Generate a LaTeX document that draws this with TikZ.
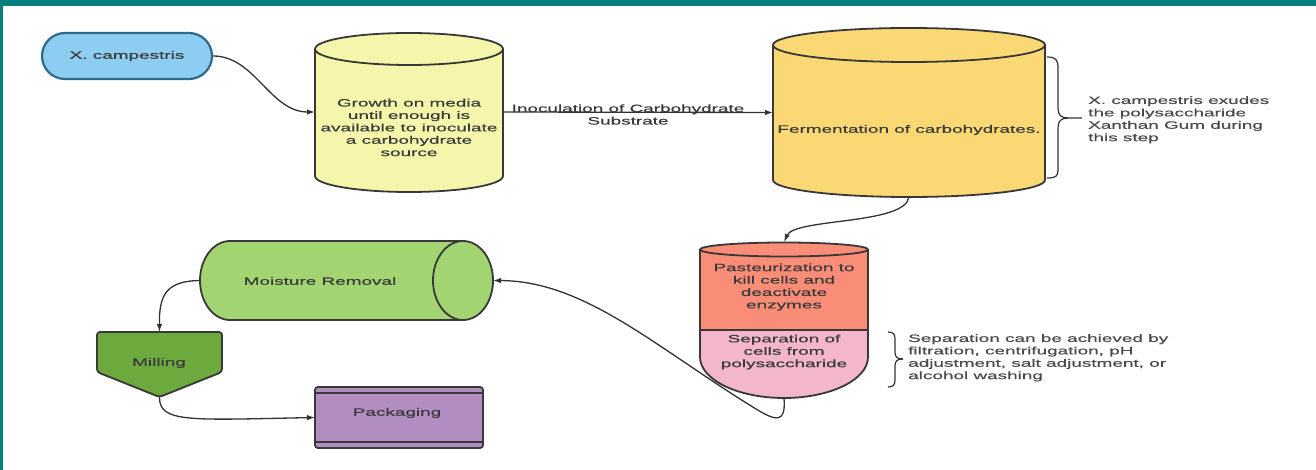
\documentclass[tikz,border=0pt]{standalone}
\usepackage{fontspec}
\setmainfont{Liberation Sans}[FakeStretch=1.77,FakeBold=0.5]
\usetikzlibrary{arrows.meta}

\definecolor{frameteal}{HTML}{047F7F}
\definecolor{pillfill}{HTML}{8DCDF2}
\definecolor{pillline}{HTML}{2D6A8C}
\definecolor{growfill}{HTML}{F6F5AC}
\definecolor{fermfill}{HTML}{FAD975}
\definecolor{pastfill}{HTML}{F98D78}
\definecolor{sepfill}{HTML}{F3B6CA}
\definecolor{moistfill}{HTML}{A2D572}
\definecolor{millfill}{HTML}{6DAA3E}
\definecolor{packfill}{HTML}{B18DC1}
\definecolor{outline}{HTML}{383838}
\definecolor{nodetext}{HTML}{3A3A3A}
\definecolor{notetext}{HTML}{4A4A4A}
\definecolor{connect}{HTML}{333333}

\begin{document}
\begin{tikzpicture}[x=1pt,y=-1pt,
  txt/.style={font=\fontsize{10.7}{12.4}\selectfont, text=nodetext, align=center, inner sep=0pt},
  note/.style={font=\fontsize{10.7}{12.4}\selectfont, text=notetext, align=left, anchor=north west, inner sep=0pt},
  hidden/.style={inner sep=0pt, outer sep=0pt, draw=none},
  shapeline/.style={draw=outline, line width=1.8pt, line join=round},
  conn/.style={draw=connect, line width=1.3pt, -{Latex[length=8pt,width=5.5pt]}},
  bracel/.style={draw=connect, line width=1.2pt},
]
\useasboundingbox (0,0) rectangle (1316,470);
\fill[white] (0,0) rectangle (1316,470);
\fill[frameteal] (0,0) rectangle (1316,6);
\fill[frameteal] (0,0) rectangle (3,470);

% start organism
\node[txt, draw=pillline, fill=pillfill, line width=2.2pt, rounded corners=23pt,
      minimum width=170pt, minimum height=46pt] (xc) at (127,56) {X. campestris};

% growth cylinder
\draw[shapeline, fill=growfill] (315,49) -- (315,176)
  arc[start angle=180, end angle=360, x radius=94pt, y radius=16pt] -- (503,49);
\draw[shapeline, fill=growfill] (409,49) ellipse[x radius=94pt, y radius=16pt];
\node[hidden, minimum width=188pt, minimum height=158pt] (grow) at (409,112) {};
\node[txt] (growtext) at (409,127.5) {Growth on media\\until enough is\\available to inoculate\\a carbohydrate\\source};

% fermentation cylinder
\draw[shapeline, fill=fermfill] (773,45) -- (773,180)
  arc[start angle=180, end angle=360, x radius=136pt, y radius=17pt] -- (1045,45);
\draw[shapeline, fill=fermfill] (909,45) ellipse[x radius=136pt, y radius=17pt];
\node[hidden, minimum width=272pt, minimum height=169pt] (ferm) at (909,112.5) {};
\node[txt] (fermtext) at (909,130) {Fermentation of carbohydrates.};

% brace and note beside fermentation
\draw[bracel] (1047,57) .. controls (1056,57) and (1058,60) .. (1058,68) -- (1058,108)
  .. controls (1058,115) and (1061,118) .. (1068,118) -- (1082,118);
\draw[bracel] (1068,118) .. controls (1061,118) and (1058,121) .. (1058,128) -- (1058,170)
  .. controls (1058,176) and (1056,178) .. (1047,178);
\node[note] (fermnote) at (1088,96) {X. campestris exudes\\the polysaccharide\\Xanthan Gum during\\this step};

% pasteurization / separation vessel
\draw[shapeline, fill=pastfill] (700,249.5) -- (700,330) -- (868,330) -- (868,249.5) -- cycle;
\draw[shapeline, fill=sepfill] (700,330) -- (700,357)
  arc[start angle=180, end angle=360, x radius=84pt, y radius=41pt] -- (868,330) -- cycle;
\draw[shapeline, fill=pastfill] (784,249.5) ellipse[x radius=84pt, y radius=7pt];
\node[hidden, minimum width=168pt, minimum height=88pt] (past) at (784,286) {};
\node[hidden, minimum width=168pt, minimum height=68pt] (sep) at (784,364) {};
\node[txt] (pasttext) at (784,287) {Pasteurization to\\kill cells and\\deactivate\\enzymes};
\node[txt] (septext) at (784,352) {Separation of\\cells from\\polysaccharide};

% brace and note beside separation
\draw[bracel] (888,332) .. controls (893,332) and (895,334) .. (895,339) -- (895,352)
  .. controls (895,357) and (897,359) .. (903,359);
\draw[bracel] (903,359) .. controls (897,359) and (895,361) .. (895,366) -- (895,380)
  .. controls (895,385) and (893,387) .. (888,387);
\node[note] (sepnote) at (908,334) {Separation can be achieved by\\filtration, centrifugation, pH\\adjustment, salt adjustment, or\\alcohol washing};

% moisture removal (horizontal cylinder)
\draw[shapeline, fill=moistfill] (463,241) -- (230,241)
  arc[start angle=90, end angle=270, x radius=30pt, y radius=39.5pt] -- (463,320);
\draw[shapeline, fill=moistfill] (463,280.5) ellipse[x radius=30pt, y radius=39.5pt];
\node[hidden, minimum width=293pt, minimum height=79pt] (moist) at (346.5,280.5) {};
\node[txt] (moisttext) at (320,281) {Moisture Removal};

% milling (downward pentagon)
\draw[shapeline, fill=millfill, rounded corners=3pt]
  (97,332) -- (222,332) -- (222,372) -- (159.5,397) -- (97,372) -- cycle;
\node[hidden, minimum width=125pt, minimum height=65pt] (mill) at (159.5,364.5) {};
\node[txt] (milltext) at (159,363) {Milling};

% packaging
\node[hidden, draw=outline, fill=packfill, line width=1.8pt, rounded corners=3pt,
      minimum width=168pt, minimum height=61pt] (pack) at (399,417.5) {};
\draw[shapeline] (315,393) -- (483,393);
\draw[shapeline] (315,442) -- (483,442);
\node[txt] (packtext) at (397,413) {Packaging};

% connectors
\draw[conn] (xc.east) .. controls (255,56) and (270,112) .. (grow.west);
\draw[conn] (grow.east) -- (ferm.west);
\node[txt] (inoc) at (628,114.5) {Inoculation of Carbohydrate\\Substrate};
\draw[conn] (ferm.south) .. controls (905,225) and (795,218) .. (past.north);
\draw[conn] (sep.south) .. controls (786,424) and (776,421) .. (756,409)
  .. controls (655,347) and (585,281) .. (moist.east);
\draw[conn] (moist.west) .. controls (166,281) and (159,295) .. (mill.north);
\draw[conn] (mill.south) .. controls (159,423) and (190,420) .. (pack.west);
\end{tikzpicture}
\end{document}
